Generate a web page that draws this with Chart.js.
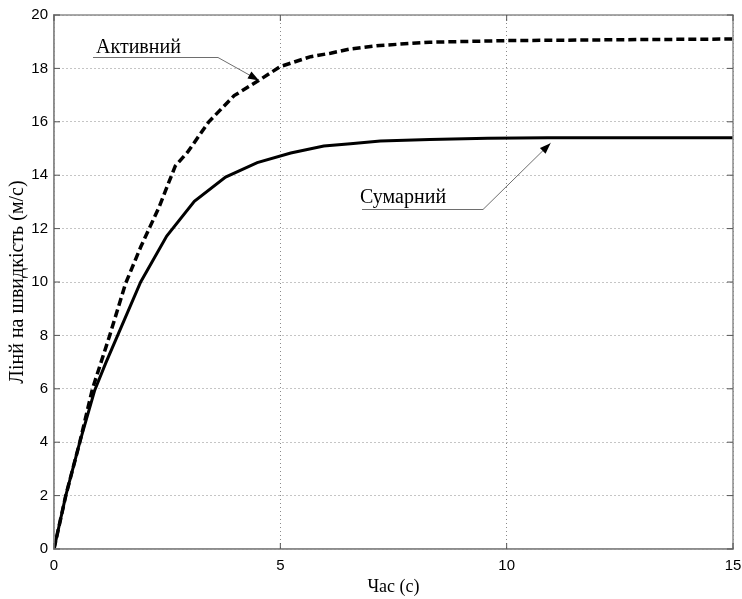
<!DOCTYPE html>
<html>
<head>
<meta charset="utf-8">
<script src="https://cdn.jsdelivr.net/npm/chart.js@4"></script>
<style>
  html, body { margin: 0; padding: 0; background: #fff; }
  #wrap { width: 742px; height: 599px; position: relative; }
</style>
</head>
<body>
<div id="wrap"><canvas id="c"></canvas></div>
<script>
// ---- data ----
const activeT = [0, 0.26, 0.57, 0.85, 1.22, 1.58, 1.92, 2.32, 2.68, 2.95, 3.42, 3.98, 4.57, 5.0, 5.67, 6.11, 6.55, 7.2, 8.3, 10.0, 13.0, 15.0];
const activeV = [0, 2.0, 4.0, 6.0, 7.94, 9.94, 11.33, 12.8, 14.35, 14.86, 16.0, 16.98, 17.6, 18.07, 18.44, 18.57, 18.73, 18.86, 18.98, 19.04, 19.08, 19.1];
const sumT = [0, 0.26, 0.57, 0.9, 1.14, 1.915, 2.49, 3.1, 3.79, 4.49, 5.23, 5.96, 6.55, 7.21, 8.3, 9.58, 10.9, 15.0];
const sumV = [0, 2.0, 4.0, 5.95, 6.95, 10.0, 11.72, 13.02, 13.93, 14.47, 14.83, 15.09, 15.18, 15.28, 15.34, 15.38, 15.4, 15.4];
const xTicks = [0, 5, 10, 15];
const yTicks = [0, 2, 4, 6, 8, 10, 12, 14, 16, 18, 20];
const xTitle = 'Час (с)';
const yTitle = 'Лінй на швидкість (м/с)';
const labelActive = 'Активний';
const labelSum = 'Сумарний';
// annotation arrow tips (data coordinates)
const tipActive = [4.53, 17.55];
const tipSum = [10.97, 15.2];

const toXY = (ts, vs) => ts.map((t, i) => ({x: t, y: vs[i]}));

const SERIF = '"Liberation Serif", "DejaVu Serif", serif';
const SANS = '"Liberation Sans", Arial, sans-serif';

const framePlugin = {
  id: 'frame',
  afterDatasetsDraw(chart) {
    const {ctx, chartArea: a, scales: {x, y}} = chart;
    ctx.save();
    // box
    ctx.strokeStyle = '#8c8c8c';
    ctx.lineWidth = 1.5;
    ctx.setLineDash([]);
    ctx.strokeRect(a.left, a.top, a.right - a.left, a.bottom - a.top);
    // inner ticks
    ctx.lineWidth = 1;
    ctx.strokeStyle = '#555';
    const tl = 6;
    yTicks.forEach(v => {
      const py = y.getPixelForValue(v);
      ctx.beginPath();
      ctx.moveTo(a.left, py); ctx.lineTo(a.left + tl, py);
      ctx.moveTo(a.right, py); ctx.lineTo(a.right - tl, py);
      ctx.stroke();
    });
    xTicks.forEach(v => {
      const px = x.getPixelForValue(v);
      ctx.beginPath();
      ctx.moveTo(px, a.bottom); ctx.lineTo(px, a.bottom - tl);
      ctx.moveTo(px, a.top); ctx.lineTo(px, a.top + tl);
      ctx.stroke();
    });
    // annotations
    function arrow(textStr, textX, textY, ulX1, ulX2, ulY, tip) {
      ctx.fillStyle = '#000';
      ctx.font = '20px ' + SERIF;
      ctx.textBaseline = 'alphabetic';
      ctx.textAlign = 'left';
      ctx.fillText(textStr, textX, textY);
      const tx = x.getPixelForValue(tip[0]);
      const ty = y.getPixelForValue(tip[1]);
      ctx.strokeStyle = '#6e6e6e';
      ctx.lineWidth = 1;
      ctx.beginPath();
      ctx.moveTo(ulX1, ulY);
      ctx.lineTo(ulX2, ulY);
      ctx.lineTo(tx, ty);
      ctx.stroke();
      // arrow head
      const ang = Math.atan2(ty - ulY, tx - ulX2);
      const L = 11, W = 4;
      ctx.fillStyle = '#000';
      ctx.beginPath();
      ctx.moveTo(tx, ty);
      ctx.lineTo(tx - L * Math.cos(ang) + W * Math.sin(ang), ty - L * Math.sin(ang) - W * Math.cos(ang));
      ctx.lineTo(tx - L * Math.cos(ang) - W * Math.sin(ang), ty - L * Math.sin(ang) + W * Math.cos(ang));
      ctx.closePath();
      ctx.fill();
    }
    arrow(labelActive, 96, 53, 93, 218, 57.5, tipActive);
    arrow(labelSum, 360, 203, 362, 483, 209.5, tipSum);
    ctx.restore();
  }
};

new Chart(document.getElementById('c'), {
  type: 'scatter',
  data: {
    datasets: [
      {
        label: labelSum,
        data: toXY(sumT, sumV),
        showLine: true,
        borderColor: '#000',
        borderWidth: 3,
        pointRadius: 0,
        tension: 0,
        fill: false
      },
      {
        label: labelActive,
        data: toXY(activeT, activeV),
        showLine: true,
        borderColor: '#000',
        borderWidth: 3.5,
        borderDash: [8, 4],
        pointRadius: 0,
        tension: 0,
        fill: false
      }
    ]
  },
  plugins: [framePlugin],
  options: {
    responsive: true,
    maintainAspectRatio: false,
    animation: false,
    layout: { padding: { left: 0, right: 9, top: 15, bottom: 0 } },
    plugins: { legend: { display: false }, tooltip: { enabled: false } },
    scales: {
      x: {
        type: 'linear',
        min: 0, max: 15,
        afterBuildTicks: s => { s.ticks = xTicks.map(v => ({value: v})); },
        afterFit: s => { s.height = 50; s.paddingLeft = 0; s.paddingRight = 0; },
        ticks: { font: { family: SANS, size: 15 }, color: '#000', padding: 8, maxRotation: 0 },
        grid: { color: '#8a8a8a', lineWidth: 1, drawTicks: false },
        border: { display: true, color: '#8c8c8c', width: 1.5, dash: [1, 3] },
        title: { display: true, text: xTitle, font: { family: SERIF, size: 18 }, color: '#000', padding: { top: 0, bottom: 1 } }
      },
      y: {
        type: 'linear',
        min: 0, max: 20,
        afterBuildTicks: s => { s.ticks = yTicks.map(v => ({value: v})); },
        afterFit: s => { s.width = 54; s.paddingTop = 0; s.paddingBottom = 0; },
        ticks: { font: { family: SANS, size: 15 }, color: '#000', padding: 6 },
        grid: { color: '#8a8a8a', lineWidth: 1, drawTicks: false },
        border: { display: true, color: '#8c8c8c', width: 1.5, dash: [1, 3] },
        title: { display: true, text: yTitle, font: { family: SERIF, size: 20 }, color: '#000', padding: { top: 6, bottom: 0 } }
      }
    }
  }
});
</script>
</body>
</html>
